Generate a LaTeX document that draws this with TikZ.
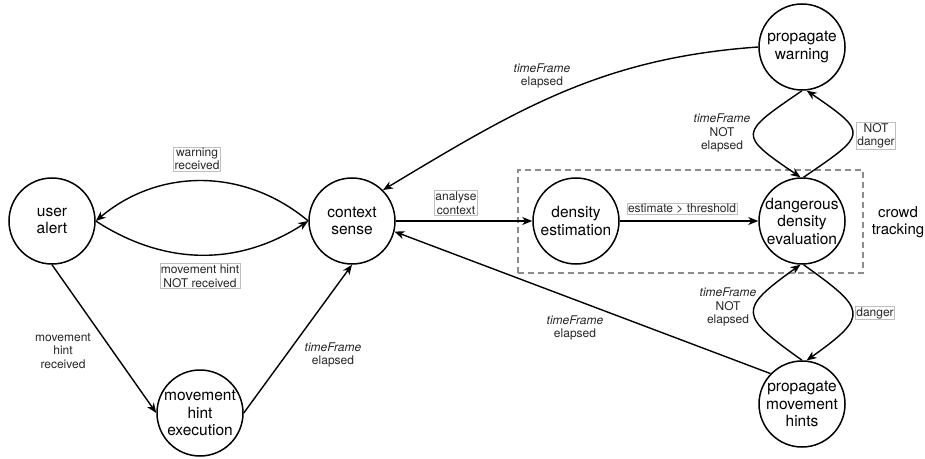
\documentclass[tikz,border=0pt]{standalone}
\usepackage{fontspec}
\setmainfont{TeX Gyre Heros}
\usetikzlibrary{arrows.meta}
\begin{document}
\begin{tikzpicture}[x=1pt,y=1pt,
  state/.style={circle,draw,line width=1.5pt,minimum size=86pt,inner sep=0pt},
  stxt/.style={align=center,font=\fontsize{15.5}{17.5}\selectfont},
  edge/.style={line width=1.4pt,-{Stealth[length=10pt,width=8pt,inset=3pt]}},
  lbl/.style={align=center,font=\fontsize{12}{13.5}\selectfont,text=black!85,inner sep=1pt},
  blbl/.style={lbl,draw=black!25,line width=0.6pt,fill=white},
  group/.style={draw=black!45,line width=1.2pt,dash pattern=on 6pt off 4pt}
]
\useasboundingbox (0,0) rectangle (925,458);

% group box
\draw[group] (518,185) rectangle (863,288);
\node[align=center,font=\fontsize{15}{17}\selectfont] (ct) at (898,236) {crowd\\tracking};

% states
\node[state,label={[stxt]center:user\\alert}] (ua) at (52,237) {};
\node[state,label={[stxt]center:context\\sense}] (cs) at (352,237) {};
\node[state,label={[stxt]center:movement\\hint\\execution}] (mhe) at (200,45) {};
\node[state,label={[stxt]center:density\\estimation}] (de) at (576,237) {};
\node[state,label={[stxt]center:dangerous\\density\\evaluation}] (dde) at (802,237) {};
\node[state,label={[stxt]center:propagate\\warning}] (pw) at (802,411) {};
\node[state,label={[stxt]center:propagate\\movement\\hints}] (pmh) at (802,54) {};

% edges
\draw[edge] (cs.west) to[bend right=40] (ua.east);
\draw[edge] (ua.east) to[bend right=33] (cs.west);
\draw[edge] (ua.south) -- (mhe.west);
\draw[edge] (mhe.east) -- (cs.south);
\draw[edge] (cs.east) -- (de.west);
\draw[edge] (de.east) -- (dde.west);
\draw[edge] (pw.west) to[out=184,in=31] (cs.45);
\draw[edge] (pmh.136) -- (cs.-14);
\draw[edge] (pw.-90) .. controls +(-63,-43) and +(-63,43) .. (dde.92);
\draw[edge] (dde.88) .. controls +(63,43) and +(63,-43) .. (pw.-84);
\draw[edge] (pmh.90) .. controls +(-63,45) and +(-63,-45) .. (dde.-92);
\draw[edge] (dde.-88) .. controls +(63,-45) and +(63,45) .. (pmh.84);

% labels
\node[blbl] (l1) at (197,299) {warning\\received};
\node[blbl] (l2) at (200,182) {movement hint\\NOT received};
\node[lbl] (l3) at (63,107) {movement\\hint\\received};
\node[lbl] (l4) at (333,103) {\textit{timeFrame}\\elapsed};
\node[blbl] (l5) at (456,255) {analyse\\context};
\node[blbl] (l6) at (682,249) {estimate > threshold};
\node[lbl] (l7) at (542,382) {\textit{timeFrame}\\elapsed};
\node[lbl] (l8) at (575,130) {\textit{timeFrame}\\elapsed};
\node[lbl] (l9) at (722,325) {\textit{timeFrame}\\NOT\\elapsed};
\node[blbl] (l10) at (876,322) {NOT\\danger};
\node[lbl] (l11) at (728,151) {\textit{timeFrame}\\NOT\\elapsed};
\node[blbl] (l12) at (875,145) {danger};
\end{tikzpicture}
\end{document}
